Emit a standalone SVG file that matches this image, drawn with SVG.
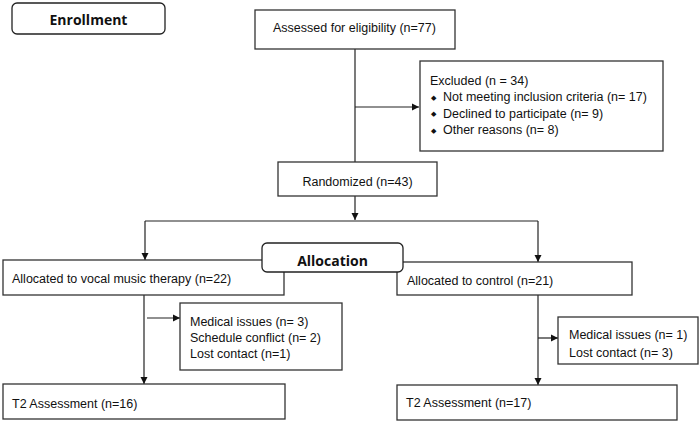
<svg xmlns="http://www.w3.org/2000/svg" width="700" height="422" viewBox="0 0 700 422">
<defs>
<style>
.box{fill:#fff;stroke:#333;stroke-width:1.3}
.rbox{fill:#fff;stroke:#222;stroke-width:1.3}
.t{font-family:"Liberation Sans",Arial,sans-serif;font-size:12.5px;fill:#111}
.b{font-family:"DejaVu Sans",sans-serif;font-size:7px;fill:#111}
.h{font-family:"Open Sans","Noto Sans",sans-serif;font-size:14px;font-weight:bold;fill:#111}
.c{fill:none;stroke:#222;stroke-width:1.2}
</style>
<marker id="ah" markerUnits="userSpaceOnUse" markerWidth="8" markerHeight="8" refX="7" refY="4" orient="auto">
<path d="M0,0.5 L7,4 L0,7.5 Z" fill="#111"/>
</marker>
</defs>
<rect width="700" height="422" fill="#fff"/>
<g id="connectors">
<path class="c" d="M355,49 V162"/>
<path class="c" d="M355,107 H419" marker-end="url(#ah)"/>
<path class="c" d="M355,196 V220" marker-end="url(#ah)"/>
<path class="c" d="M145,221 H538"/>
<path class="c" d="M145,221 V260" marker-end="url(#ah)"/>
<path class="c" d="M538,221 V262" marker-end="url(#ah)"/>
<path class="c" d="M144,295 V384" marker-end="url(#ah)"/>
<path class="c" d="M147,318 H180" marker-end="url(#ah)"/>
<path class="c" d="M538,295 V385" marker-end="url(#ah)"/>
<path class="c" d="M538,338 H558" marker-end="url(#ah)"/>
</g>
<g id="enrollment">
<rect class="rbox" x="12" y="3" width="153" height="31" rx="5"/>
<text class="h" x="88.5" y="25" text-anchor="middle">Enrollment</text>
</g>
<g id="assessed">
<rect class="box" x="255" y="10" width="200" height="39"/>
<text class="t" x="273" y="32">Assessed for eligibility (n=77)</text>
</g>
<g id="excluded">
<rect class="box" x="420" y="61" width="243" height="90"/>
<text class="t" x="430" y="85">Excluded (n = 34)</text>
<text class="b" x="431" y="99.5">◆</text>
<text class="t" x="443" y="101">Not meeting inclusion criteria (n= 17)</text>
<text class="b" x="431" y="116">◆</text>
<text class="t" x="443" y="117.5">Declined to participate (n= 9)</text>
<text class="b" x="431" y="132.5">◆</text>
<text class="t" x="443" y="134">Other reasons (n= 8)</text>
</g>
<g id="randomized">
<rect class="box" x="278" y="162" width="159" height="34"/>
<text class="t" x="357.5" y="186" text-anchor="middle">Randomized (n=43)</text>
</g>
<g id="alloc-vocal">
<rect class="box" x="3" y="260" width="281" height="35"/>
<text class="t" x="12" y="283">Allocated to vocal music therapy (n=22)</text>
</g>
<g id="alloc-control">
<rect class="box" x="397" y="262" width="235" height="33"/>
<text class="t" x="407" y="285">Allocated to control (n=21)</text>
</g>
<g id="allocation">
<rect class="rbox" x="262" y="243" width="141" height="29" rx="5"/>
<text class="h" x="332.5" y="266" text-anchor="middle">Allocation</text>
</g>
<g id="lost-vocal">
<rect class="box" x="180" y="303" width="162" height="67"/>
<text class="t" x="190" y="326">Medical issues (n= 3)</text>
<text class="t" x="190" y="342">Schedule conflict (n= 2)</text>
<text class="t" x="190" y="358">Lost contact (n=1)</text>
</g>
<g id="lost-control">
<rect class="box" x="558" y="317" width="140" height="47"/>
<text class="t" x="569" y="339">Medical issues (n= 1)</text>
<text class="t" x="569" y="357">Lost contact (n= 3)</text>
</g>
<g id="t2-vocal">
<rect class="box" x="3" y="384" width="282" height="35"/>
<text class="t" x="12" y="408">T2 Assessment (n=16)</text>
</g>
<g id="t2-control">
<rect class="box" x="397" y="385" width="280" height="35"/>
<text class="t" x="406" y="407">T2 Assessment (n=17)</text>
</g>
</svg>
